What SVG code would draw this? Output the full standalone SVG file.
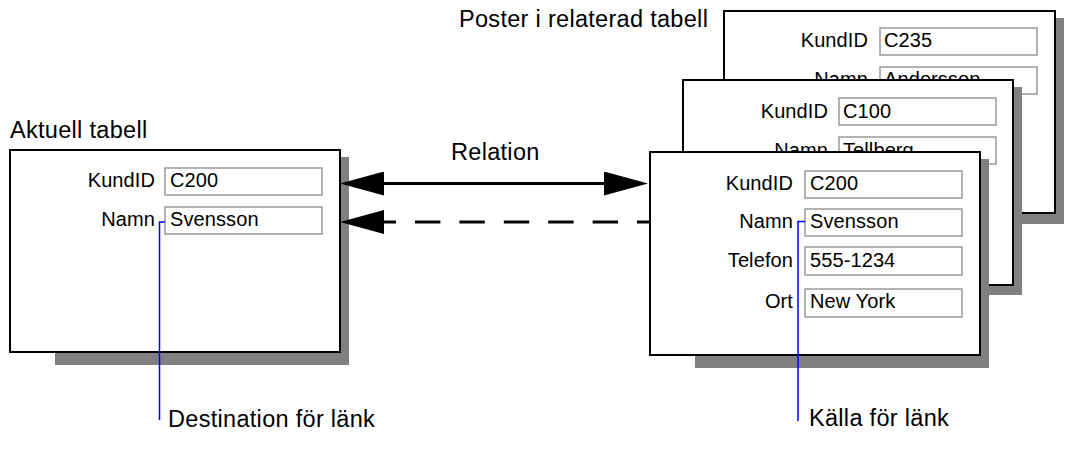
<svg xmlns="http://www.w3.org/2000/svg" width="1092" height="451" viewBox="0 0 1092 451">
<style>
text{font-family:"Liberation Sans",Arial,Helvetica,sans-serif;fill:#000}
.t{font-size:23.5px;letter-spacing:0.3px}
.f{font-size:20px;letter-spacing:0.1px}
.lbl{text-anchor:end}
.box{fill:#fff;stroke:#000;stroke-width:2}
.sh{fill:#808080}
.fld{fill:#fff;stroke:#9a9a9a;stroke-width:1.5}
.link{fill:none;stroke:#0000ff;stroke-width:1.5}
.conn{stroke:#000;stroke-width:3;fill:none}
</style>
<defs>
<marker id="ah" viewBox="0 0 44 24" refX="1" refY="12" markerWidth="44" markerHeight="24" markerUnits="userSpaceOnUse" orient="auto-start-reverse">
<path d="M0,0 L44,12 L0,24 Z" fill="#000"/>
</marker>
</defs>
<rect width="1092" height="451" fill="#fff"/>

<text class="t" x="459" y="27">Poster i relaterad tabell</text>
<text class="t" x="10" y="138">Aktuell tabell</text>
<text class="t" x="451" y="160">Relation</text>

<g id="record-back">
<rect class="sh" x="769" y="18" width="295" height="206"/>
<rect class="box" x="724" y="11" width="331" height="202"/>
<text class="f lbl" x="868" y="47">KundID</text>
<rect class="fld" x="880" y="28" width="157" height="27"/>
<text class="f" x="884" y="47">C235</text>
<text class="f lbl" x="868" y="86">Namn</text>
<rect class="fld" x="880" y="67" width="157" height="27"/>
<text class="f" x="884" y="86">Andersson</text>
</g>

<g id="record-middle">
<rect class="sh" x="728" y="87" width="294" height="208"/>
<rect class="box" x="683" y="80" width="330" height="205"/>
<text class="f lbl" x="828" y="118">KundID</text>
<rect class="fld" x="839" y="98" width="157" height="27"/>
<text class="f" x="843" y="118">C100</text>
<text class="f lbl" x="828" y="157">Namn</text>
<rect class="fld" x="839" y="137" width="157" height="27"/>
<text class="f" x="843" y="157">Tellberg</text>
</g>

<g id="record-front">
<rect class="sh" x="695" y="159" width="294" height="209"/>
<rect class="box" x="650" y="152" width="330" height="203"/>
<text class="f lbl" x="793" y="190">KundID</text>
<rect class="fld" x="805" y="171" width="157" height="27"/>
<text class="f" x="810" y="190">C200</text>
<text class="f lbl" x="793" y="228">Namn</text>
<rect class="fld" x="805" y="209" width="157" height="27"/>
<text class="f" x="810" y="228">Svensson</text>
<text class="f lbl" x="793" y="267">Telefon</text>
<rect class="fld" x="805" y="247" width="157" height="28"/>
<text class="f" x="810" y="267">555-1234</text>
<text class="f lbl" x="793" y="308">Ort</text>
<rect class="fld" x="805" y="289" width="157" height="28"/>
<text class="f" x="810" y="308">New York</text>
</g>

<g id="current-table">
<rect class="sh" x="55" y="157" width="294" height="208"/>
<rect class="box" x="10" y="150" width="330" height="202"/>
<text class="f lbl" x="155" y="187">KundID</text>
<rect class="fld" x="165" y="168" width="157" height="27"/>
<text class="f" x="170" y="187">C200</text>
<text class="f lbl" x="155" y="226">Namn</text>
<rect class="fld" x="165" y="207" width="157" height="27"/>
<text class="f" x="170" y="226">Svensson</text>
</g>

<g id="connectors">
<line class="conn" x1="383" y1="183.5" x2="605" y2="183.5" marker-start="url(#ah)" marker-end="url(#ah)"/>
<line class="conn" x1="650" y1="222" x2="383" y2="222" stroke-dasharray="25.4 19" stroke-dashoffset="12.4" marker-end="url(#ah)"/>
<path class="link" d="M165,222 H159.5 V420"/>
<path class="link" d="M805,221.5 H798 V421"/>
</g>

<text class="t" x="168" y="427">Destination för länk</text>
<text class="t" x="809" y="426">Källa för länk</text>
</svg>
